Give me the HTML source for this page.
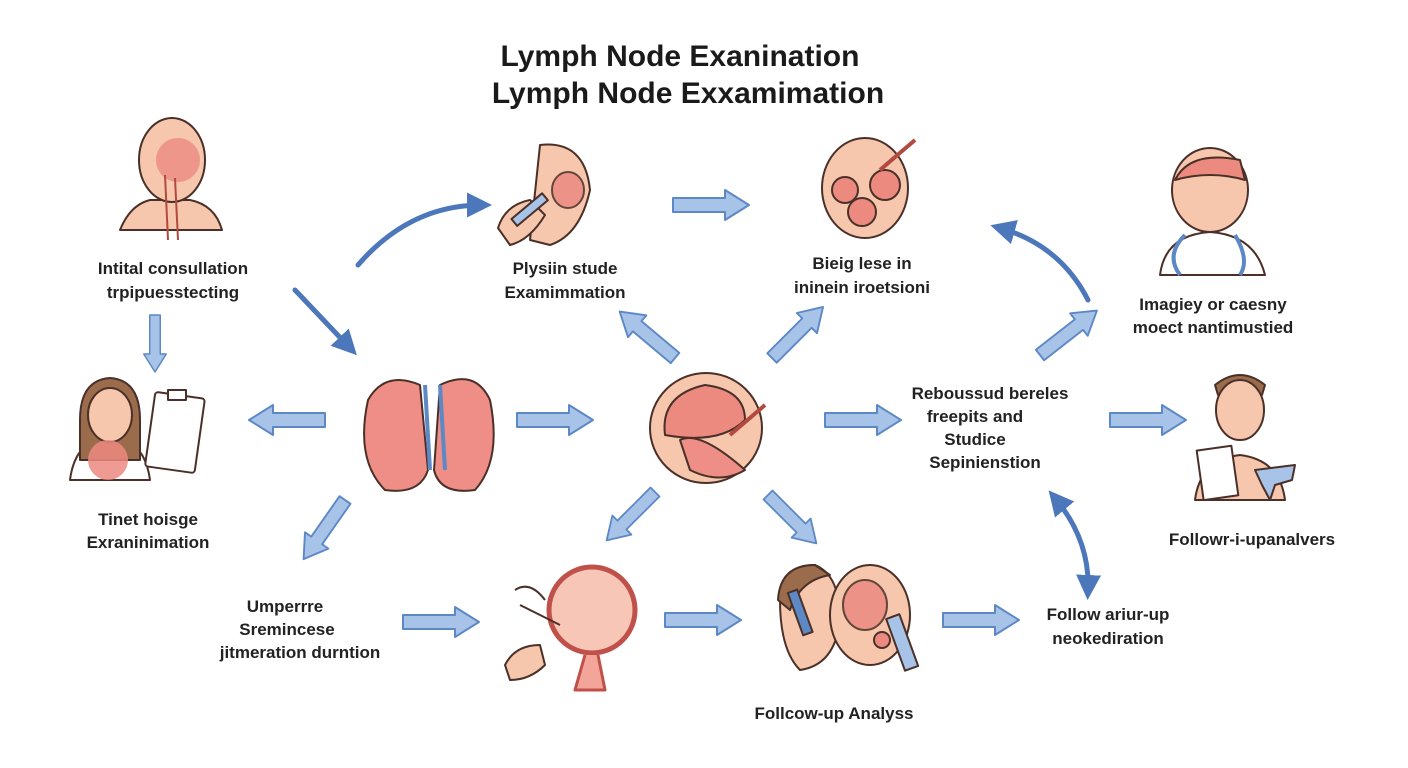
<!DOCTYPE html>
<html><head><meta charset="utf-8"><style>
html,body{margin:0;padding:0;background:#fff;width:1408px;height:768px;overflow:hidden}
svg text{font-family:"Liberation Sans",Arial,sans-serif;fill:#1a1a1a}
.t{font-size:30px;font-weight:bold;text-anchor:middle}
.l{font-size:17px;font-weight:bold;text-anchor:middle;fill:#222}
</style></head><body>
<svg width="1408" height="768" viewBox="0 0 1408 768" xmlns="http://www.w3.org/2000/svg">
<defs>
<g id="ba"><polygon points="0,-7 52,-7 52,-15 76,0 52,15 52,7 0,7" fill="#a8c3e8" stroke="#5d88c6" stroke-width="2" stroke-linejoin="round"/></g>
<marker id="ah" viewBox="0 0 10 10" refX="6" refY="5" markerWidth="5" markerHeight="5" orient="auto"><path d="M0,0L10,5L0,10z" fill="#4d77bb"/></marker>
<marker id="ah2" viewBox="0 0 10 10" refX="6" refY="5" markerWidth="5" markerHeight="5" orient="auto-start-reverse"><path d="M0,0L10,5L0,10z" fill="#4d77bb"/></marker>
</defs>
<text class="t" x="680" y="66">Lymph Node Exanination</text>
<text class="t" x="688" y="103">Lymph Node Exxamimation</text>

<!-- labels -->
<text class="l" x="173" y="274">Intital consullation</text>
<text class="l" x="173" y="298">trpipuesstecting</text>
<text class="l" x="565" y="274">Plysiin stude</text>
<text class="l" x="565" y="298">Examimmation</text>
<text class="l" x="862" y="269">Bieig lese in</text>
<text class="l" x="862" y="293">ininein iroetsioni</text>
<text class="l" x="1213" y="310">Imagiey or caesny</text>
<text class="l" x="1213" y="333">moect nantimustied</text>
<text class="l" x="990" y="399">Reboussud bereles</text>
<text class="l" x="975" y="422">freepits and</text>
<text class="l" x="975" y="445">Studice</text>
<text class="l" x="985" y="468">Sepinienstion</text>
<text class="l" x="148" y="525">Tinet hoisge</text>
<text class="l" x="148" y="548">Exraninimation</text>
<text class="l" x="1252" y="545">Followr-i-upanalvers</text>
<text class="l" x="285" y="612">Umperrre</text>
<text class="l" x="287" y="635">Sremincese</text>
<text class="l" x="300" y="658">jitmeration durntion</text>
<text class="l" x="1108" y="620">Follow ariur-up</text>
<text class="l" x="1108" y="644">neokediration</text>
<text class="l" x="834" y="719">Follcow-up Analyss</text>

<!-- block arrows -->
<use href="#ba" transform="translate(155,315) rotate(90) scale(0.75)"/>
<use href="#ba" transform="translate(325,420) rotate(180)"/>
<use href="#ba" transform="translate(517,420)"/>
<use href="#ba" transform="translate(673,205)"/>
<use href="#ba" transform="translate(675,358) rotate(-140) scale(0.95)"/>
<use href="#ba" transform="translate(772,358) rotate(-45) scale(0.95)"/>
<use href="#ba" transform="translate(825,420)"/>
<use href="#ba" transform="translate(1110,420)"/>
<use href="#ba" transform="translate(345,500) rotate(125) scale(0.95)"/>
<use href="#ba" transform="translate(655,492) rotate(135) scale(0.9)"/>
<use href="#ba" transform="translate(768,495) rotate(45) scale(0.9)"/>
<use href="#ba" transform="translate(403,622)"/>
<use href="#ba" transform="translate(665,620)"/>
<use href="#ba" transform="translate(943,620)"/>
<use href="#ba" transform="translate(1040,355) rotate(-38) scale(0.95)"/>

<!-- curved arrows -->
<g fill="none" stroke="#4d77bb" stroke-width="5" stroke-linecap="round">
<path d="M358,265 Q410,205 482,205" marker-end="url(#ah)"/>
<path d="M295,290 L350,348" marker-end="url(#ah)"/>
<path d="M1088,300 Q1060,245 1000,228" marker-end="url(#ah)"/>
<path d="M1055,498 Q1090,540 1088,590" marker-start="url(#ah2)" marker-end="url(#ah2)"/>
</g>

<g stroke="#4a3028" stroke-width="2" stroke-linejoin="round">
<!-- 1 bust -->
<path d="M120,230 Q130,205 150,200 L190,200 Q215,205 222,230 Z" fill="#f6c6ad"/>
<ellipse cx="172" cy="160" rx="33" ry="42" fill="#f6c6ad"/>
<ellipse cx="178" cy="160" rx="22" ry="22" fill="#ec8a80" stroke="none" opacity=".8"/>
<path d="M165,175 L168,240 M175,178 L178,240" stroke="#b24a40" fill="none"/>
<!-- 2 throat + hand -->
<path d="M540,145 Q585,140 590,190 Q580,235 550,245 L530,240 Z" fill="#f6c6ad"/>
<ellipse cx="568" cy="190" rx="16" ry="18" fill="#ec8a80" opacity=".85"/>
<path d="M498,228 Q505,205 530,200 L545,215 Q530,240 510,245 Z" fill="#f6c6ad"/>
<rect x="510" y="205" width="40" height="9" fill="#a8c3e8" transform="rotate(-40 530 210)"/>
<!-- 3 circle -->
<ellipse cx="865" cy="188" rx="43" ry="50" fill="#f6c6ad"/>
<circle cx="845" cy="190" r="13" fill="#ec8a80"/>
<circle cx="862" cy="212" r="14" fill="#ec8a80"/>
<circle cx="885" cy="185" r="15" fill="#ec8a80"/>
<path d="M880,170 L915,140" fill="none" stroke="#b24a40" stroke-width="4"/>
<!-- 4 face with stethoscope -->
<path d="M1160,275 Q1165,235 1210,232 Q1255,235 1265,275 Z" fill="#fff"/>
<ellipse cx="1210" cy="190" rx="38" ry="42" fill="#f6c6ad"/>
<path d="M1175,180 Q1190,150 1240,160 L1245,180 Q1210,170 1175,180 Z" fill="#ec8a80"/>
<path d="M1185,235 Q1165,255 1180,275 M1235,235 Q1250,260 1240,275" fill="none" stroke="#5d88c6" stroke-width="4"/>
<!-- 5 woman + clipboard -->
<path d="M70,480 Q75,440 110,435 Q145,440 150,480 Z" fill="#fff"/>
<path d="M80,420 Q80,380 110,378 Q140,380 140,420 L140,460 L80,460 Z" fill="#9b6c4c"/>
<ellipse cx="110" cy="415" rx="22" ry="27" fill="#f6c6ad"/>
<ellipse cx="108" cy="460" rx="20" ry="20" fill="#ec8a80" opacity=".85" stroke="none"/>
<rect x="150" y="395" width="50" height="75" rx="3" fill="#fff" transform="rotate(8 175 432)"/>
<rect x="168" y="390" width="18" height="10" fill="#fff"/>
<!-- 6 lungs -->
<path d="M420,385 Q385,370 368,400 Q355,460 385,490 Q420,495 428,470 Z" fill="#ee8e86"/>
<path d="M440,385 Q475,368 490,400 Q502,460 475,490 Q440,495 434,470 Z" fill="#ee8e86"/>
<path d="M425,385 L430,470 M440,385 L445,470" stroke="#5d88c6" stroke-width="4" fill="none"/>
<!-- 7 circle -->
<ellipse cx="706" cy="428" rx="56" ry="55" fill="#f6c6ad"/>
<path d="M665,435 Q660,395 705,385 Q745,390 745,420 Q720,445 665,435 Z" fill="#ec8a80"/>
<path d="M680,440 Q700,430 745,470 Q720,485 690,470 Z" fill="#ee8e86"/>
<path d="M730,435 L765,405" stroke="#b24a40" stroke-width="4" fill="none"/>
<!-- 8 man + clipboard -->
<path d="M1195,500 Q1200,460 1240,455 Q1280,460 1285,500 Z" fill="#f6c6ad"/>
<path d="M1215,385 Q1240,365 1265,385 L1262,395 L1218,395 Z" fill="#9b6c4c"/>
<ellipse cx="1240" cy="410" rx="24" ry="30" fill="#f6c6ad"/>
<rect x="1200" y="448" width="35" height="50" fill="#fff" transform="rotate(-8 1217 473)"/>
<path d="M1255,470 L1295,465 L1292,480 L1275,485 L1270,500 L1262,485 Z" fill="#a8c3e8"/>
<!-- 9 magnifier -->
<circle cx="592" cy="610" r="43" fill="#f8c6b6" stroke="#c0504a" stroke-width="5"/>
<path d="M585,655 L575,690 L605,690 L598,655" fill="#f3a59a" stroke="#c0504a" stroke-width="3"/>
<path d="M505,665 Q515,645 540,645 L545,665 Q530,680 510,680 Z" fill="#f6c6ad"/>
<path d="M515,590 Q530,580 545,600 M520,605 L560,625" fill="none"/>
<!-- 10 two faces -->
<path d="M780,600 Q780,565 815,565 Q840,575 840,620 Q835,665 800,670 Q780,650 780,600 Z" fill="#f6c6ad"/>
<path d="M778,600 Q780,565 815,565 L830,575 Q800,580 790,610 Z" fill="#9b6c4c"/>
<ellipse cx="870" cy="615" rx="40" ry="50" fill="#f6c6ad"/>
<ellipse cx="865" cy="605" rx="22" ry="25" fill="#ec8a80" opacity=".85"/>
<circle cx="882" cy="640" r="8" fill="#ec8a80"/>
<rect x="895" y="615" width="14" height="55" fill="#a8c3e8" transform="rotate(-20 902 642)"/>
<rect x="795" y="590" width="10" height="45" fill="#5d88c6" transform="rotate(-20 800 612)"/>
</g>
</svg>
</body></html>
